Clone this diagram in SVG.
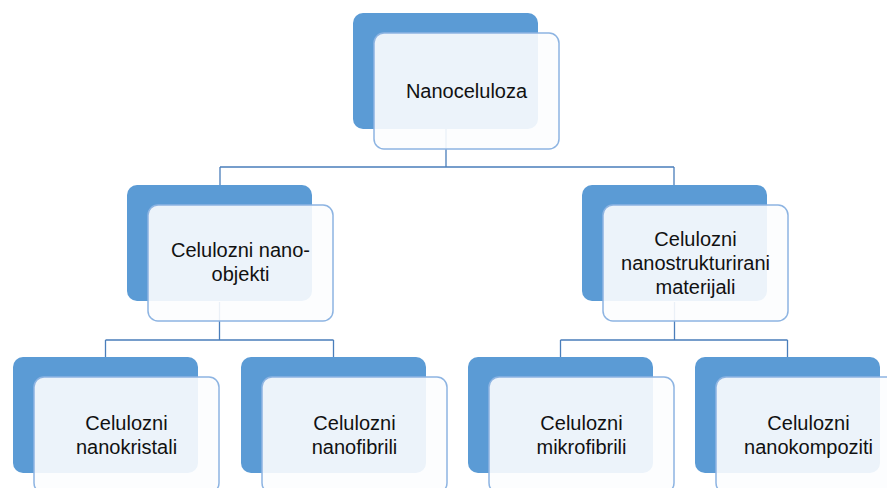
<svg xmlns="http://www.w3.org/2000/svg" width="887" height="488" viewBox="0 0 887 488">
  <style>
    .back { fill: #5B9BD5; }
    .front { fill: #FCFDFE; fill-opacity: 0.9; stroke: #8DB4E2; stroke-width: 1.5; }
    .conn { fill: none; stroke: #4A7EBB; stroke-width: 1.3; }
    text { font-family: "Liberation Sans", Arial, sans-serif; font-size: 20px; fill: #111; text-anchor: middle; }
  </style>
  <rect width="887" height="488" fill="#FFFFFF"/>
  <g id="connectors" class="conn">
    <path d="M446 129 V167 M220 167 H674 M220 167 V185 M674 167 V185"/>
    <path d="M219.5 302 V340 M105.5 340 H333.5 M105.5 340 V357 M333.5 340 V357"/>
    <path d="M674.5 302 V340 M560.5 340 H787.5 M560.5 340 V357 M787.5 340 V357"/>
  </g>
  <g id="node-nanoceluloza">
    <rect class="back" x="353" y="13" width="185" height="116" rx="10"/>
    <rect class="front" x="374" y="33" width="185" height="116" rx="10"/>
    <text x="466.5" y="98">Nanoceluloza</text>
  </g>
  <g id="node-nanoobjekti">
    <rect class="back" x="127" y="185" width="185" height="116" rx="10"/>
    <rect class="front" x="148" y="205" width="185" height="116" rx="10"/>
    <text x="240.5" y="257">Celulozni nano-</text>
    <text x="240.5" y="281">objekti</text>
  </g>
  <g id="node-nanostrukturirani">
    <rect class="back" x="582" y="185" width="185" height="116" rx="10"/>
    <rect class="front" x="603" y="205" width="185" height="116" rx="10"/>
    <text x="695.5" y="246">Celulozni</text>
    <text x="695.5" y="270">nanostrukturirani</text>
    <text x="695.5" y="294">materijali</text>
  </g>
  <g id="node-nanokristali">
    <rect class="back" x="13" y="357" width="185" height="116" rx="10"/>
    <rect class="front" x="34" y="377" width="185" height="116" rx="10"/>
    <text x="126.5" y="430">Celulozni</text>
    <text x="126.5" y="453.5">nanokristali</text>
  </g>
  <g id="node-nanofibrili">
    <rect class="back" x="241" y="357" width="185" height="116" rx="10"/>
    <rect class="front" x="262" y="377" width="185" height="116" rx="10"/>
    <text x="354.5" y="430">Celulozni</text>
    <text x="354.5" y="453.5">nanofibrili</text>
  </g>
  <g id="node-mikrofibrili">
    <rect class="back" x="468" y="357" width="185" height="116" rx="10"/>
    <rect class="front" x="489" y="377" width="185" height="116" rx="10"/>
    <text x="581.5" y="430">Celulozni</text>
    <text x="581.5" y="453.5">mikrofibrili</text>
  </g>
  <g id="node-nanokompoziti">
    <rect class="back" x="695" y="357" width="185" height="116" rx="10"/>
    <rect class="front" x="716" y="377" width="185" height="116" rx="10"/>
    <text x="808.5" y="430">Celulozni</text>
    <text x="808.5" y="453.5">nanokompoziti</text>
  </g>
</svg>
